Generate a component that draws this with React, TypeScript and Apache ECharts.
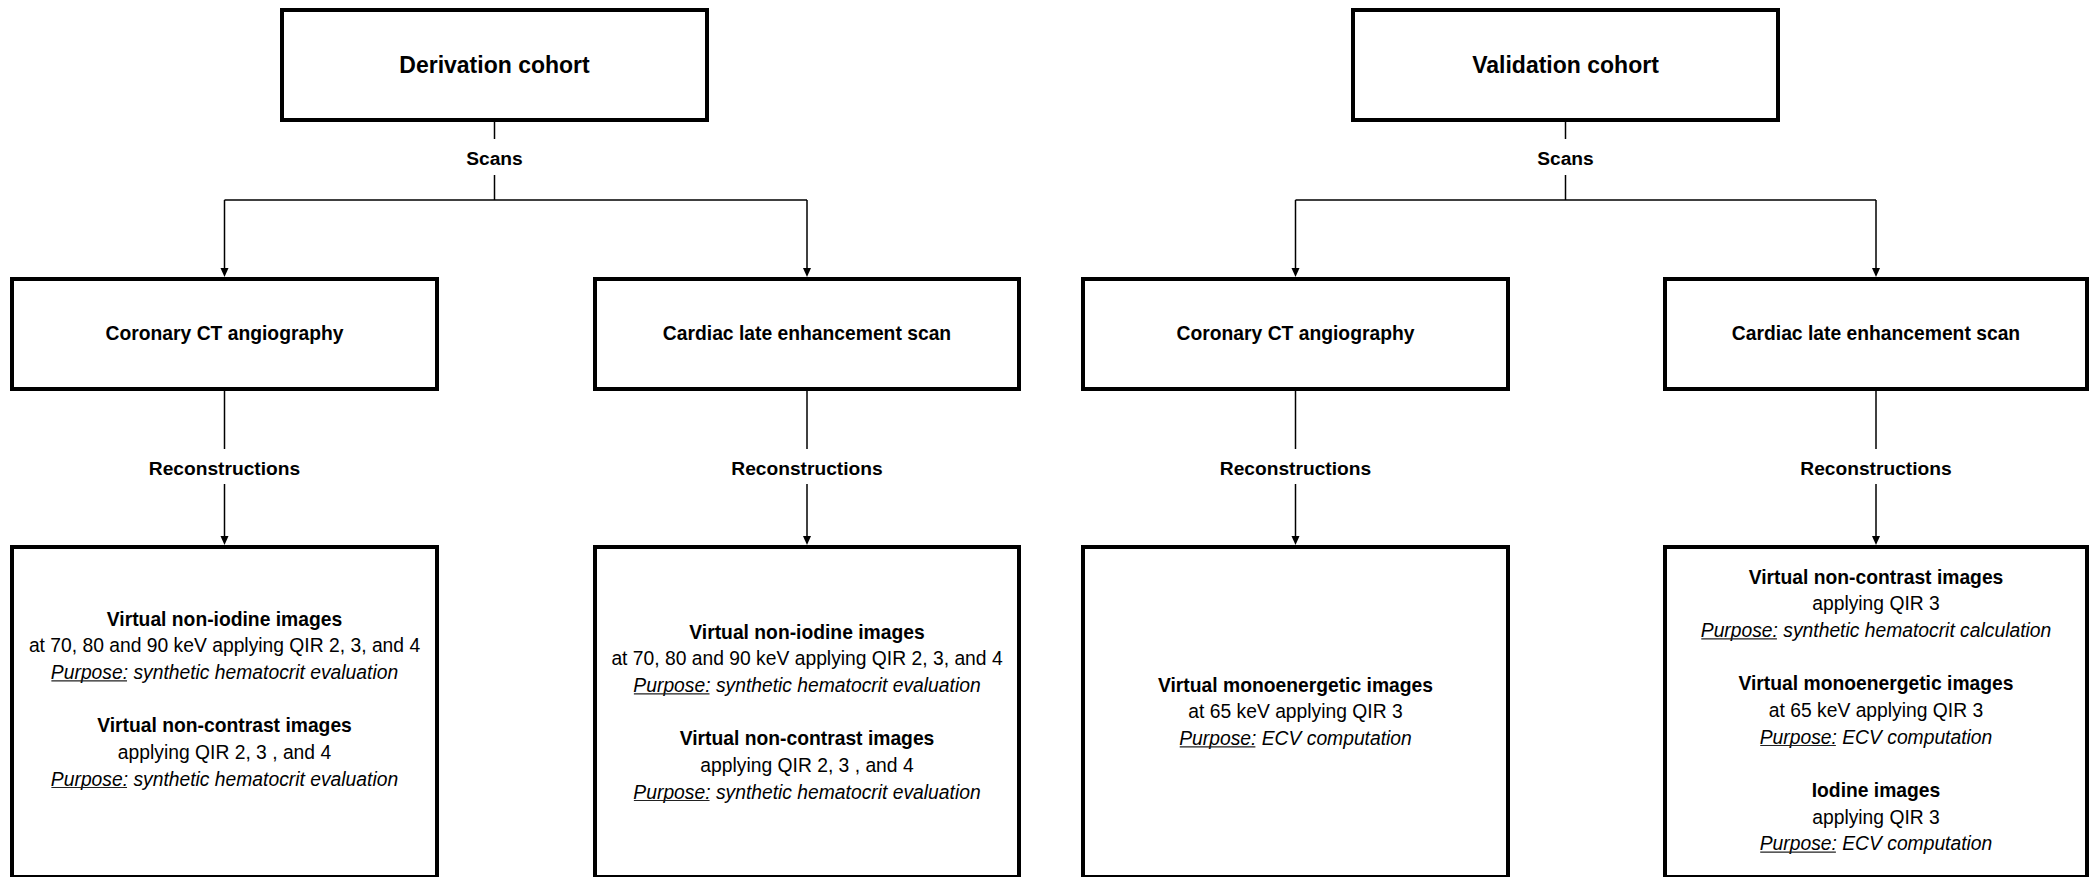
import React, { useEffect, useRef } from "react";
import * as echarts from "echarts";

// ---- content (data) ----
const cohorts = ["Derivation cohort", "Validation cohort"];
const scanLabel = "Scans";
const reconLabel = "Reconstructions";
const scanTypes = [
  "Coronary CT angiography",
  "Cardiac late enhancement scan",
  "Coronary CT angiography",
  "Cardiac late enhancement scan",
];
// each line: [kind, text]; kind: title | body | purpose | gap
const reconCoronaryDerivation: [string, string][] = [
  ["title", "Virtual non-iodine images"],
  ["body", "at 70, 80 and 90 keV applying QIR 2, 3, and 4"],
  ["purpose", "synthetic hematocrit evaluation"],
  ["gap", ""],
  ["title", "Virtual non-contrast images"],
  ["body", "applying QIR 2, 3 , and 4"],
  ["purpose", "synthetic hematocrit evaluation"],
];
const reconCardiacDerivation: [string, string][] = [
  ["title", "Virtual non-iodine images"],
  ["body", "at 70, 80 and 90 keV applying QIR 2, 3, and 4"],
  ["purpose", "synthetic hematocrit evaluation"],
  ["gap", ""],
  ["title", "Virtual non-contrast images"],
  ["body", "applying QIR 2, 3 , and 4"],
  ["purpose", "synthetic hematocrit evaluation"],
];
const reconCoronaryValidation: [string, string][] = [
  ["title", "Virtual monoenergetic images"],
  ["body", "at 65 keV applying QIR 3"],
  ["purpose", "ECV computation"],
];
const reconCardiacValidation: [string, string][] = [
  ["title", "Virtual non-contrast images"],
  ["body", "applying QIR 3"],
  ["purpose", "synthetic hematocrit calculation"],
  ["gap", ""],
  ["title", "Virtual monoenergetic images"],
  ["body", "at 65 keV applying QIR 3"],
  ["purpose", "ECV computation"],
  ["gap", ""],
  ["title", "Iodine images"],
  ["body", "applying QIR 3"],
  ["purpose", "ECV computation"],
];
const reconContents = [
  reconCoronaryDerivation,
  reconCardiacDerivation,
  reconCoronaryValidation,
  reconCardiacValidation,
];
const purposeWord = "Purpose:";

// ---- layout ----
const W = 2091;
const H = 877;
const FONT = '"Liberation Sans", Arial, Helvetica, sans-serif';
const cohortX: [number, number][] = [
  [280, 709],
  [1351, 1780],
];
const cohortY: [number, number] = [8, 122];
const colX: [number, number][] = [
  [10, 439],
  [593, 1021],
  [1081, 1510],
  [1663, 2089],
];
const colCohort = [0, 0, 1, 1];
const level2Y: [number, number] = [277, 391];
const level3Y: [number, number] = [545, 877];
const firstLineY = [619, 632, 685, 577];
const LINE_STEP = 26.67;
const BODY_SIZE = 19.3;

function App() {
  const ref = useRef<HTMLDivElement>(null);
  useEffect(() => {
    if (!ref.current) return;
    const chart = echarts.init(ref.current, null, { renderer: "svg" });
    const canvas = document.createElement("canvas");
    const ctx = canvas.getContext("2d")!;
    const measure = (t: string, font: string) => {
      ctx.font = font;
      return ctx.measureText(t).width;
    };

    const els: any[] = [];
    const stroke = "#000";
    const box = (x0: number, x1: number, y0: number, y1: number) => {
      els.push({
        type: "rect",
        shape: { x: x0 + 2, y: y0 + 2, width: x1 - x0 - 4, height: y1 - y0 - 4 },
        style: { fill: "#fff", stroke, lineWidth: 4 },
      });
    };
    const line = (x1: number, y1: number, x2: number, y2: number) => {
      els.push({
        type: "line",
        shape: { x1, y1, x2, y2 },
        style: { stroke, lineWidth: 1.5 },
      });
    };
    const arrow = (x: number, y0: number, tip: number) => {
      line(x, y0, x, tip - 6);
      els.push({
        type: "polygon",
        shape: { points: [[x - 4, tip - 9], [x + 4, tip - 9], [x, tip]] },
        style: { fill: stroke },
      });
    };
    const text = (
      t: string,
      x: number,
      y: number,
      size: number,
      weight: string,
      style: string = "normal",
      align: string = "center"
    ) => {
      els.push({
        type: "text",
        x,
        y,
        style: {
          text: t,
          fontSize: size,
          fontWeight: weight,
          fontStyle: style,
          fontFamily: FONT,
          fill: "#000",
          align,
          verticalAlign: "middle",
        },
      });
    };

    // cohort boxes and their branches
    cohorts.forEach((name, ci) => {
      const [x0, x1] = cohortX[ci];
      const cx = (x0 + x1) / 2;
      box(x0, x1, cohortY[0], cohortY[1]);
      text(name, cx, (cohortY[0] + cohortY[1]) / 2, 23, "bold");
      line(cx, cohortY[1], cx, 139);
      text(scanLabel, cx, 158, 19.2, "bold");
      line(cx, 175, cx, 200);
      const kids = colX
        .map((c, i) => ({ c, i }))
        .filter((k) => colCohort[k.i] === ci)
        .map((k) => (k.c[0] + k.c[1]) / 2);
      line(Math.min(...kids), 200, Math.max(...kids), 200);
      kids.forEach((kx) => arrow(kx, 200, level2Y[0]));
    });

    // scan-type boxes, reconstruction boxes
    colX.forEach(([x0, x1], i) => {
      const cx = (x0 + x1) / 2;
      box(x0, x1, level2Y[0], level2Y[1]);
      text(scanTypes[i], cx, (level2Y[0] + level2Y[1]) / 2 - 1, BODY_SIZE, "bold");
      line(cx, level2Y[1], cx, 449);
      text(reconLabel, cx, 468, 19.2, "bold");
      arrow(cx, 484, level3Y[0]);
      box(x0, x1, level3Y[0], level3Y[1] + 2);

      reconContents[i].forEach(([kind, t], li) => {
        const y = firstLineY[i] + li * LINE_STEP;
        if (kind === "gap") return;
        if (kind === "title") text(t, cx, y, BODY_SIZE, "bold");
        else if (kind === "body") text(t, cx, y, BODY_SIZE, "normal");
        else {
          const f = `italic ${BODY_SIZE}px ${FONT}`;
          const wp = measure(purposeWord, f);
          const full = purposeWord + " " + t;
          const wf = measure(full, f);
          const start = cx - wf / 2;
          text(full, start, y, BODY_SIZE, "normal", "italic", "left");
          els.push({
            type: "line",
            shape: { x1: start + 0.5, y1: y + 8.5, x2: start + wp - 1, y2: y + 8.5 },
            style: { stroke: "#222", lineWidth: 1.2 },
          });
        }
      });
    });

    chart.setOption({
      animation: false,
      backgroundColor: "#fff",
      graphic: { elements: els },
    });
    return () => chart.dispose();
  }, []);

  return (
    <div
      ref={ref}
      style={{ position: "fixed", left: 0, top: 0, width: W, height: H, background: "#fff" }}
    />
  );
}

export default App;
